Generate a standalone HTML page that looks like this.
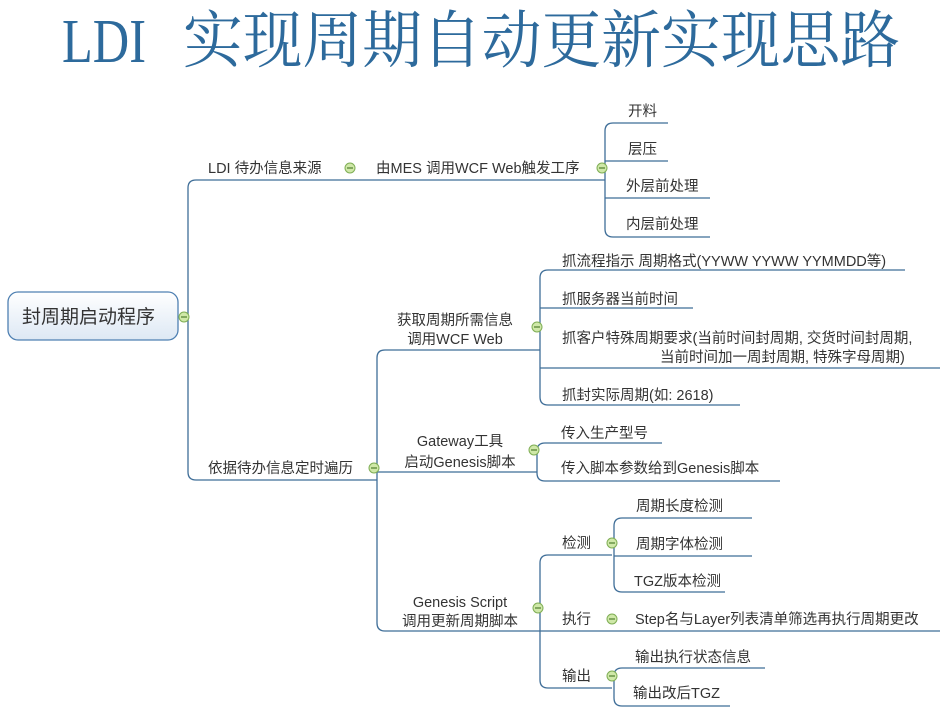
<!DOCTYPE html>
<html><head><meta charset="utf-8"><style>
html,body{margin:0;padding:0;background:#fff;width:952px;height:711px;overflow:hidden}
svg{display:block}
.t{font-family:"Liberation Sans","Noto Sans CJK SC",sans-serif;font-size:14.5px;fill:#333}
.ln{stroke:#3f6e98;stroke-width:1.3;fill:none}
.c{fill:#cfe8a8;stroke:#7fae55;stroke-width:1}
.m{stroke:#4f7f2e;stroke-width:1.2}
</style></head><body>
<svg width="952" height="711" viewBox="0 0 952 711" xmlns="http://www.w3.org/2000/svg">
<defs><linearGradient id="g" x1="0" y1="0" x2="0" y2="1"><stop offset="0" stop-color="#ffffff"/><stop offset="1" stop-color="#dde8f4"/></linearGradient></defs>
<g transform="scale(1,1.2)">
<text x="62" y="51.5" font-family="'Liberation Serif','Noto Serif CJK SC',serif" font-size="52" fill="#2d6a9c" textLength="84" lengthAdjust="spacingAndGlyphs">LDI</text>
<text x="183" y="51.5" font-family="'Liberation Serif','Noto Serif CJK SC',serif" font-size="52" fill="#2d6a9c" textLength="717" lengthAdjust="spacingAndGlyphs">实现周期自动更新实现思路</text>
</g>

<rect x="8" y="292" width="170" height="48" rx="10" fill="url(#g)" stroke="#4f80b2" stroke-width="1.3"/>
<text x="22" y="323" class="t" style="font-size:19px">封周期启动程序</text>

<path class="ln" d="M605 180 H196 Q188 180 188 188 V472 Q188 480 196 480 H377"/>
<path class="ln" d="M540 350 H385 Q377 350 377 358 V623 Q377 631 385 631 H940"/>
<path class="ln" d="M377 472 H537"/>
<path class="ln" d="M668 123 H613 Q605 123 605 131 V229 Q605 237 613 237 H710"/>
<path class="ln" d="M605 161 H668 M605 198 H710"/>
<path class="ln" d="M905 270 H548 Q540 270 540 278 V397 Q540 405 548 405 H740"/>
<path class="ln" d="M540 308 H693 M540 368 H940"/>
<path class="ln" d="M662 443 H545 Q537 443 537 451 V473 Q537 481 545 481 H780"/>
<path class="ln" d="M612 555 H548 Q540 555 540 563 V680 Q540 688 548 688 H612"/>
<path class="ln" d="M752 518 H622 Q614 518 614 526 V584 Q614 592 622 592 H725"/>
<path class="ln" d="M614 556 H752"/>
<path class="ln" d="M765 668 H622 Q614 668 614 676 V698 Q614 706 622 706 H730"/>

<g class="t">
<text x="208" y="173">LDI 待办信息来源</text>
<text x="376" y="173">由MES 调用WCF Web触发工序</text>
<text x="628" y="116">开料</text>
<text x="628" y="154">层压</text>
<text x="626" y="191">外层前处理</text>
<text x="626" y="229">内层前处理</text>
<text x="208" y="473">依据待办信息定时遍历</text>
<text x="455" y="325" text-anchor="middle">获取周期所需信息</text>
<text x="455" y="344" text-anchor="middle">调用WCF Web</text>
<text x="460" y="446" text-anchor="middle">Gateway工具</text>
<text x="460" y="467" text-anchor="middle">启动Genesis脚本</text>
<text x="460" y="607" text-anchor="middle">Genesis Script</text>
<text x="460" y="626" text-anchor="middle">调用更新周期脚本</text>
<text x="562" y="266">抓流程指示  周期格式(YYWW YYWW YYMMDD等)</text>
<text x="562" y="304">抓服务器当前时间</text>
<text x="562" y="343">抓客户特殊周期要求(当前时间封周期, 交货时间封周期,</text>
<text x="660" y="362">当前时间加一周封周期, 特殊字母周期)</text>
<text x="562" y="400">抓封实际周期(如: 2618)</text>
<text x="561" y="438">传入生产型号</text>
<text x="561" y="473">传入脚本参数给到Genesis脚本</text>
<text x="562" y="548">检测</text>
<text x="562" y="624">执行</text>
<text x="562" y="681">输出</text>
<text x="636" y="511">周期长度检测</text>
<text x="636" y="549">周期字体检测</text>
<text x="634" y="586">TGZ版本检测</text>
<text x="635" y="624">Step名与Layer列表清单筛选再执行周期更改</text>
<text x="635" y="662">输出执行状态信息</text>
<text x="633" y="698">输出改后TGZ</text>
</g>

<g>
<circle class="c" cx="184" cy="317" r="5"/><line class="m" x1="181" y1="317" x2="187" y2="317"/>
<circle class="c" cx="350" cy="168" r="5"/><line class="m" x1="347" y1="168" x2="353" y2="168"/>
<circle class="c" cx="602" cy="168" r="5"/><line class="m" x1="599" y1="168" x2="605" y2="168"/>
<circle class="c" cx="374" cy="468" r="5"/><line class="m" x1="371" y1="468" x2="377" y2="468"/>
<circle class="c" cx="537" cy="327" r="5"/><line class="m" x1="534" y1="327" x2="540" y2="327"/>
<circle class="c" cx="534" cy="450" r="5"/><line class="m" x1="531" y1="450" x2="537" y2="450"/>
<circle class="c" cx="538" cy="608" r="5"/><line class="m" x1="535" y1="608" x2="541" y2="608"/>
<circle class="c" cx="612" cy="543" r="5"/><line class="m" x1="609" y1="543" x2="615" y2="543"/>
<circle class="c" cx="612" cy="619" r="5"/><line class="m" x1="609" y1="619" x2="615" y2="619"/>
<circle class="c" cx="612" cy="676" r="5"/><line class="m" x1="609" y1="676" x2="615" y2="676"/>
</g>
</svg>
</body></html>
